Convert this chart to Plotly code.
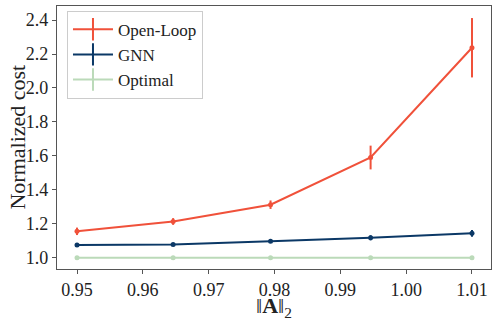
import plotly.graph_objects as go

x_vals = [0.95, 0.9646, 0.9794, 0.9946, 1.01]
open_loop = [1.155, 1.213, 1.312, 1.590, 2.237]
open_loop_err = [0.022, 0.020, 0.025, 0.070, 0.175]
gnn = [1.075, 1.077, 1.096, 1.117, 1.143]
gnn_err = [0.006, 0.005, 0.006, 0.015, 0.020]
optimal = [1.0, 1.0, 1.0, 1.0, 1.0]
optimal_err = [0.0, 0.0, 0.0, 0.0, 0.0]

names = ["Open-Loop", "GNN", "Optimal"]
colors = ["#F0513A", "#0B3866", "#BBDAB9"]
series = [open_loop, gnn, optimal]
errors = [open_loop_err, gnn_err, optimal_err]

x_ticks = [0.95, 0.96, 0.97, 0.98, 0.99, 1.00, 1.01]
x_tick_labels = ["0.95", "0.96", "0.97", "0.98", "0.99", "1.00", "1.01"]
y_ticks = [1.0, 1.2, 1.4, 1.6, 1.8, 2.0, 2.2, 2.4]
y_tick_labels = ["1.0", "1.2", "1.4", "1.6", "1.8", "2.0", "2.2", "2.4"]

FONT = "Liberation Serif, Times New Roman, serif"
TXT = "#222222"

fig = go.Figure()
for name, col, ys, es in reversed(list(zip(names, colors, series, errors))):
    fig.add_trace(go.Scatter(
        x=x_vals, y=ys, mode="lines+markers", name=name, showlegend=False,
        line=dict(color=col, width=2),
        marker=dict(color=col, size=5),
        error_y=dict(type="data", array=es, visible=True, color=col, thickness=2, width=0),
    ))
for name, col in zip(names, colors):
    fig.add_trace(go.Scatter(
        x=[None], y=[None], mode="lines+markers", name=name,
        line=dict(color=col, width=2),
        marker=dict(symbol="line-ns-open", size=16, line=dict(color=col, width=2), color=col),
    ))

fig.update_layout(
    width=499, height=324,
    margin=dict(l=57, r=8, t=6, b=55, autoexpand=False),
    paper_bgcolor="white", plot_bgcolor="white",
    font=dict(family=FONT, size=16, color=TXT),
    legend=dict(
        x=0.023, y=0.982, xanchor="left", yanchor="top",
        bgcolor="white", bordercolor="#cccccc", borderwidth=1,
        font=dict(family=FONT, size=17, color=TXT),
        itemwidth=40, tracegroupgap=0,
    ),
    annotations=[
        dict(text="‖<b>A</b>‖<sub>2</sub>", xref="paper", yref="paper",
             x=0.5, y=-0.143, xanchor="center", yanchor="middle", showarrow=False,
             font=dict(family=FONT, size=22, color=TXT)),
        dict(text="Normalized cost", xref="paper", yref="paper",
             x=-0.092, y=0.5, xanchor="center", yanchor="middle", showarrow=False, textangle=-90,
             font=dict(family=FONT, size=22, color=TXT)),
    ],
)
fig.update_xaxes(
    range=[0.94696, 1.01289], tickvals=x_ticks, ticktext=x_tick_labels, automargin=False,
    showgrid=False, zeroline=False, showline=True, linecolor="#555", linewidth=1.2, mirror=True,
    ticks="outside", ticklen=4, tickcolor="#555", tickfont=dict(family=FONT, size=18, color=TXT),
)
fig.update_yaxes(
    range=[0.933, 2.483], tickvals=y_ticks, ticktext=y_tick_labels, automargin=False,
    showgrid=False, zeroline=False, showline=True, linecolor="#555", linewidth=1.2, mirror=True,
    ticks="outside", ticklen=4, tickcolor="#555", tickfont=dict(family=FONT, size=18, color=TXT),
)
fig.write_html("out.html", config={"displayModeBar": False},
               post_script="document.body.style.margin='0';")
